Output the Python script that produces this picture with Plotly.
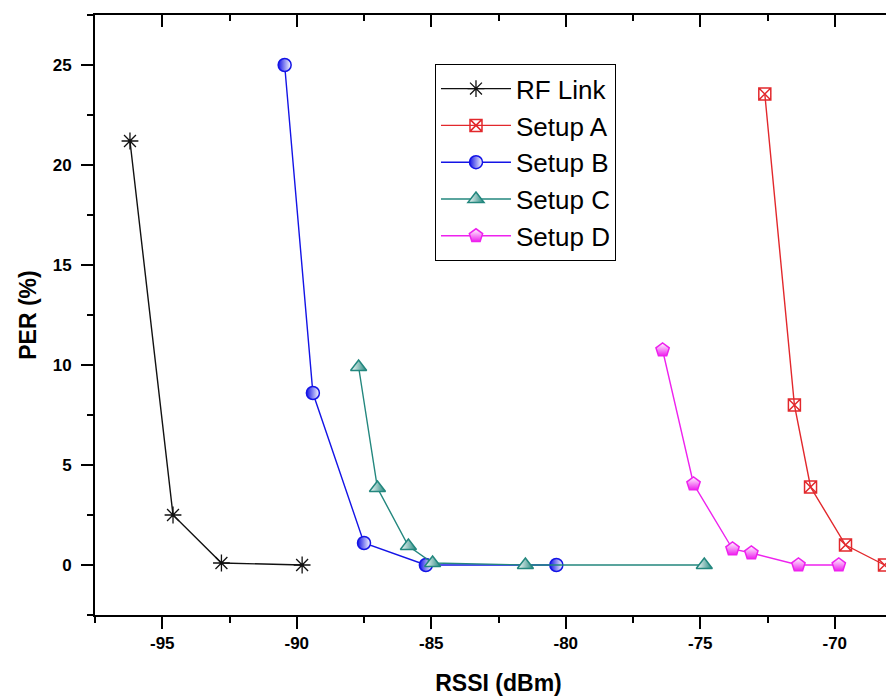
import plotly.graph_objects as go

# ---- data ----
rf_x = [-96.2, -94.6, -92.8, -89.8]
rf_y = [21.2, 2.5, 0.1, 0.0]

a_x = [-72.6, -71.5, -70.9, -69.6, -68.15]
a_y = [23.55, 8.0, 3.9, 1.0, 0.0]

b_x = [-90.45, -89.4, -87.5, -85.2, -80.35]
b_y = [25.0, 8.6, 1.1, 0.0, 0.0]

c_x = [-87.7, -87.0, -85.85, -84.95, -81.5, -74.85]
c_y = [9.9, 3.85, 0.95, 0.1, 0.0, 0.0]

d_x = [-76.4, -75.25, -73.8, -73.1, -71.35, -69.85]
d_y = [10.75, 4.05, 0.8, 0.6, 0.0, 0.0]

x_ticks = [-95, -90, -85, -80, -75, -70]
y_ticks = [0, 5, 10, 15, 20, 25]

BLACK = "#111111"
RED = "#e2282c"
BLUE = "#1414e6"
TEAL = "#23877e"
MAGENTA = "#ee22ee"

FONT = "Liberation Sans, Arial, sans-serif"

fig = go.Figure()

fig.add_trace(go.Scatter(
    x=rf_x, y=rf_y, mode="lines+markers", name="RF Link",
    line=dict(color=BLACK, width=1.4),
    marker=dict(symbol="asterisk-open", size=14, color=BLACK,
                line=dict(color=BLACK, width=1.3)),
))
fig.add_trace(go.Scatter(
    x=a_x, y=a_y, mode="lines+markers", name="Setup A",
    line=dict(color=RED, width=1.4),
    marker=dict(symbol="square-x-open", size=12, color=RED,
                line=dict(color=RED, width=1.5)),
))
fig.add_trace(go.Scatter(
    x=b_x, y=b_y, mode="lines+markers", name="Setup B",
    line=dict(color=BLUE, width=1.4),
    marker=dict(symbol="circle", size=13, color=BLUE,
                gradient=dict(type="horizontal", color="white"),
                line=dict(color=BLUE, width=1.5)),
))
fig.add_trace(go.Scatter(
    x=c_x, y=c_y, mode="lines+markers", name="Setup C",
    line=dict(color=TEAL, width=1.4),
    marker=dict(symbol="triangle-up", size=14, color="white",
                gradient=dict(type="horizontal", color=TEAL),
                line=dict(color=TEAL, width=1.5)),
))
fig.add_trace(go.Scatter(
    x=d_x, y=d_y, mode="lines+markers", name="Setup D",
    line=dict(color=MAGENTA, width=1.4),
    marker=dict(symbol="pentagon", size=14, color="white",
                gradient=dict(type="vertical", color=MAGENTA),
                line=dict(color=MAGENTA, width=1.5)),
))

# invisible trace to drive mirrored (inside) ticks on top and right
fig.add_trace(go.Scatter(x=rf_x, y=rf_y, xaxis="x2", yaxis="y2",
                         mode="none", showlegend=False, hoverinfo="skip"))

XR = [-97.5, -67.5]
YR = [-2.5, 27.5]
tickfont = dict(family=FONT, size=17, color="black", weight="bold")

fig.update_layout(
    width=894, height=700,
    margin=dict(l=87, r=0, t=7, b=93, autoexpand=False),
    paper_bgcolor="white", plot_bgcolor="white",
    showlegend=True,
    legend=dict(
        x=0.4213, y=0.918, xanchor="left", yanchor="top",
        bgcolor="white", bordercolor="black", borderwidth=1,
        font=dict(family=FONT, size=26, color="black"),
        itemwidth=70,
    ),
    xaxis=dict(
        range=XR, tickvals=x_ticks, ticktext=[str(v) for v in x_ticks],
        showgrid=False, zeroline=False,
        showline=True, linecolor="black", linewidth=2,
        ticks="outside", ticklen=12, tickwidth=2, tickcolor="black",
        minor=dict(dtick=2.5, tick0=-95, ticks="outside", ticklen=6,
                   tickwidth=2, tickcolor="black", showgrid=False),
        tickfont=tickfont, ticklabelstandoff=0,
        title=dict(text="<b>RSSI (dBm)</b>",
                   font=dict(family=FONT, size=23, color="black"),
                   standoff=22),
    ),
    yaxis=dict(
        range=YR, tickvals=y_ticks, ticktext=[str(v) for v in y_ticks],
        showgrid=False, zeroline=False,
        showline=True, linecolor="black", linewidth=2,
        ticks="outside", ticklen=12, tickwidth=2, tickcolor="black",
        minor=dict(dtick=2.5, tick0=0, ticks="outside", ticklen=6,
                   tickwidth=2, tickcolor="black", showgrid=False),
        tickfont=tickfont, ticklabelstandoff=6,
        title=dict(text="<b>PER (%)</b>",
                   font=dict(family=FONT, size=23, color="black"),
                   standoff=10),
    ),
    xaxis2=dict(
        range=XR, overlaying="x", side="top", anchor="y2",
        tickvals=x_ticks, showticklabels=False, showgrid=False,
        zeroline=False, showline=True, linecolor="black", linewidth=2,
        ticks="inside", ticklen=12, tickwidth=2, tickcolor="black",
        minor=dict(dtick=2.5, tick0=-95, ticks="inside", ticklen=6,
                   tickwidth=2, tickcolor="black", showgrid=False),
    ),
    yaxis2=dict(
        range=YR, overlaying="y", side="right", anchor="x2",
        tickvals=y_ticks, showticklabels=False, showgrid=False,
        zeroline=False, showline=True, linecolor="black", linewidth=2,
        ticks="inside", ticklen=12, tickwidth=2, tickcolor="black",
    ),
)

fig.write_html("out.html")
